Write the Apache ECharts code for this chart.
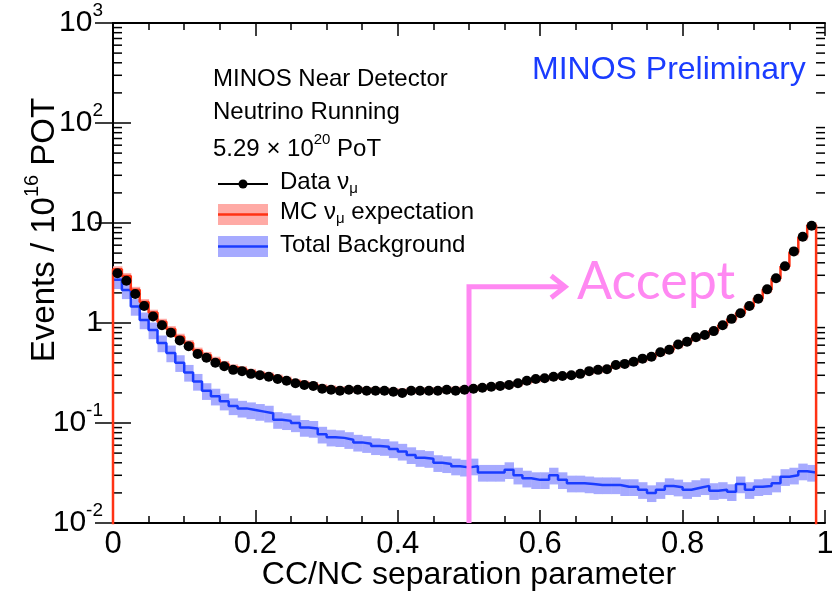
<!DOCTYPE html>
<html lang="en">
<head>
<meta charset="UTF-8">
<title>CC/NC separation parameter</title>
<script src="https://cdn.jsdelivr.net/npm/echarts@6/dist/echarts.min.js"></script>
<style>
    body { margin: 0; background: #fff; }
    #main { width: 832px; height: 592px; }
</style>
</head>
<body>
<div id="main"></div>
<script type="text/javascript">
    // 80 bins of 0.0125 on [0, 1]
    var binWidth = 0.0125;

    // data points (Events / 1e16 POT), bins 0..78
    var dataVals = [3.14, 2.65, 1.95, 1.48, 1.16, 0.95, 0.80, 0.67, 0.585, 0.49,
        0.45, 0.40, 0.37, 0.34, 0.33, 0.31, 0.30, 0.29, 0.275, 0.265,
        0.25, 0.24, 0.235, 0.22, 0.215, 0.21, 0.215, 0.215, 0.21, 0.21,
        0.21, 0.205, 0.20, 0.21, 0.21, 0.21, 0.21, 0.215, 0.21, 0.215,
        0.22, 0.225, 0.23, 0.235, 0.24, 0.25, 0.265, 0.275, 0.28, 0.29,
        0.295, 0.30, 0.31, 0.33, 0.34, 0.345, 0.38, 0.39, 0.41, 0.44,
        0.46, 0.51, 0.54, 0.61, 0.65, 0.72, 0.76, 0.83, 0.95, 1.10,
        1.25, 1.48, 1.75, 2.17, 2.80, 3.7, 5.2, 7.3, 9.4];

    // MC nu_mu expectation, bins 0..79 (last bin empty)
    var mcVals = [3.45, 2.95, 2.15, 1.62, 1.27, 1.03, 0.87, 0.73, 0.63, 0.53,
        0.48, 0.43, 0.39, 0.36, 0.345, 0.325, 0.31, 0.30, 0.285, 0.272,
        0.258, 0.248, 0.24, 0.228, 0.222, 0.217, 0.216, 0.215, 0.213, 0.212,
        0.211, 0.208, 0.207, 0.21, 0.211, 0.212, 0.213, 0.215, 0.216, 0.218,
        0.222, 0.226, 0.231, 0.236, 0.242, 0.25, 0.262, 0.272, 0.281, 0.29,
        0.296, 0.303, 0.313, 0.328, 0.338, 0.35, 0.375, 0.39, 0.41, 0.435,
        0.46, 0.505, 0.54, 0.60, 0.65, 0.71, 0.76, 0.835, 0.95, 1.09,
        1.26, 1.47, 1.76, 2.16, 2.78, 3.68, 5.1, 7.2, 9.5, 0];

    // total background, bins 0..78
    var bgVals = [2.7, 2.14, 1.46, 1.07, 0.85, 0.63, 0.50, 0.40, 0.32, 0.26,
        0.21, 0.185, 0.165, 0.148, 0.14, 0.135, 0.13, 0.125, 0.108, 0.105,
        0.10, 0.09, 0.088, 0.077, 0.072, 0.071, 0.068, 0.064, 0.062, 0.059,
        0.058, 0.055, 0.052, 0.048, 0.045, 0.044, 0.040, 0.039, 0.037, 0.036,
        0.037, 0.032, 0.032, 0.032, 0.034, 0.030, 0.028, 0.027, 0.027, 0.030,
        0.027, 0.025, 0.025, 0.0245, 0.024, 0.024, 0.024, 0.023, 0.023, 0.0215,
        0.020, 0.0215, 0.0235, 0.0228, 0.0215, 0.0225, 0.0235, 0.021, 0.0215, 0.0205,
        0.0245, 0.0215, 0.023, 0.0235, 0.025, 0.029, 0.030, 0.033, 0.032];

    // relative size of the systematic bands
    var mcErr = 0.07;
    var bgErr = 0.19;

    // cut arrow
    var cutValue = 0.5;
    var arrowEnd = 0.635;
    var arrowLevel = 2.3;

    var yMin = 0.01, yMax = 1000;
    var floorVal = 1e-4;

    var logMinor = [];
    for (var k = -2; k < 3; k++) {
        for (var m = 2; m < 10; m++) logMinor.push([0, m * Math.pow(10, k)]);
    }

    function stepPoints(vals, fromFloor) {
        var pts = [];
        if (fromFloor) pts.push([0, floorVal]);
        vals.forEach(function (v, i) {
            var y = v > 0 ? v : floorVal;
            pts.push([i * binWidth, y]);
            pts.push([(i + 1) * binWidth, y]);
        });
        return pts;
    }

    function bandData(vals, err) {
        var out = [];
        vals.forEach(function (v, i) {
            if (v > 0) out.push([i * binWidth, (i + 1) * binWidth, v * (1 - err), v * (1 + err)]);
        });
        return out;
    }

    function bandRenderer(color) {
        return function (params, api) {
            var a = api.coord([api.value(0), api.value(3)]);
            var b = api.coord([api.value(1), api.value(2)]);
            return {
                type: 'rect',
                shape: {x: a[0], y: a[1], width: b[0] - a[0] + 0.5, height: b[1] - a[1]},
                style: {fill: color}
            };
        };
    }

    var pointData = dataVals.map(function (v, i) { return [(i + 0.5) * binWidth, v]; });

    var red = '#ff3214', redBand = '#ffaaa5';
    var blue = '#1a3cff', blueBand = '#a6aaff';
    var pink = '#ff88f2';

    var font = 'Liberation Sans, Arial, sans-serif';

    var expRich = {
        b: {fontSize: 30, fontFamily: font, color: '#000', lineHeight: 32},
        s: {fontSize: 19, fontFamily: font, color: '#000', lineHeight: 19, padding: [0, 0, 24, 0]}
    };

    var myChart = echarts.init(document.getElementById('main'));

    var xAxisBase = {
        type: 'value', min: 0, max: 1, interval: 0.2,
        axisLine: {lineStyle: {color: '#000', width: 2}},
        axisTick: {inside: true, length: 13, lineStyle: {color: '#000', width: 1.5}},
        minorTick: {show: true, splitNumber: 4, length: 7, lineStyle: {color: '#000', width: 1.5}},
        splitLine: {show: false}
    };
    var yAxisBase = {
        type: 'log', logBase: 10, min: yMin, max: yMax,
        axisLine: {lineStyle: {color: '#000', width: 2}},
        axisTick: {inside: true, length: 18, lineStyle: {color: '#000', width: 1.5}},
        splitLine: {show: false}
    };

    var option = {
        backgroundColor: '#fff',
        animation: false,
        grid: {left: 113, right: 7, top: 23, bottom: 69, containLabel: false, outerBoundsMode: 'none'},
        xAxis: [
            echarts.util.merge({
                position: 'bottom',
                name: 'CC/NC separation parameter',
                nameLocation: 'middle',
                nameGap: 36,
                nameMoveOverlap: false,
                nameTextStyle: {fontSize: 32, fontFamily: font, color: '#000'},
                axisLabel: {fontSize: 31, fontFamily: font, color: '#000', margin: 6}
            }, xAxisBase, true),
            echarts.util.merge({position: 'top', axisLabel: {show: false}}, xAxisBase, true)
        ],
        yAxis: [
            echarts.util.merge({
                position: 'left',
                axisLabel: {
                    margin: 10,
                    formatter: function (v) {
                        var e = Math.round(Math.log(v) / Math.LN10);
                        if (e === 0) return '{b|1}';
                        if (e === 1) return '{b|10}';
                        return '{b|10}{s|' + e + '}';
                    },
                    rich: expRich
                }
            }, yAxisBase, true),
            echarts.util.merge({position: 'right', axisLabel: {show: false}}, yAxisBase, true)
        ],
        series: [
            {
                // log minor ticks on left and right frame
                type: 'custom', silent: true, z: 1,
                data: logMinor,
                renderItem: function (params, api) {
                    var l = api.coord([0, api.value(1)]);
                    var r = api.coord([1, api.value(1)]);
                    return {
                        type: 'group', children: [
                            {type: 'line', shape: {x1: l[0], y1: l[1], x2: l[0] + 9, y2: l[1]}, style: {stroke: '#000', lineWidth: 1.5}},
                            {type: 'line', shape: {x1: r[0] - 9, y1: r[1], x2: r[0], y2: r[1]}, style: {stroke: '#000', lineWidth: 1.5}}
                        ]
                    };
                }
            },
            {
                name: 'bgBand', type: 'custom', z: 2, clip: true,
                data: bandData(bgVals, bgErr),
                encode: {x: [0, 1], y: [2, 3]},
                renderItem: bandRenderer(blueBand)
            },
            {
                name: 'mcBand', type: 'custom', z: 3, clip: true,
                data: bandData(mcVals, mcErr),
                encode: {x: [0, 1], y: [2, 3]},
                renderItem: bandRenderer(redBand)
            },
            {
                name: 'Total Background', type: 'line', z: 4, clip: true,
                data: stepPoints(bgVals, false),
                showSymbol: false,
                lineStyle: {color: blue, width: 2.5}
            },
            {
                name: 'MC', type: 'line', z: 5, clip: true,
                data: stepPoints(mcVals, true),
                showSymbol: false,
                lineStyle: {color: red, width: 2.5}
            },
            {
                // cut arrow
                type: 'custom', z: 6, clip: false, silent: true,
                data: [[cutValue, arrowLevel, arrowEnd]],
                renderItem: function (params, api) {
                    var bottom = api.coord([api.value(0), yMin]);
                    var corner = api.coord([api.value(0), api.value(1)]);
                    var tip = api.coord([api.value(2), api.value(1)]);
                    return {
                        type: 'group', children: [
                            {type: 'polyline', shape: {points: [bottom, corner, tip]},
                                style: {stroke: pink, lineWidth: 5, fill: null, lineJoin: 'miter'}},
                            {type: 'polyline', shape: {points: [[tip[0] - 14, tip[1] - 11], [tip[0], tip[1]], [tip[0] - 14, tip[1] + 11]]},
                                style: {stroke: pink, lineWidth: 5, fill: null, lineJoin: 'miter'}}
                        ]
                    };
                }
            },
            {
                name: 'Data', type: 'scatter', z: 7,
                data: pointData,
                symbol: 'circle', symbolSize: 10,
                itemStyle: {color: '#000', opacity: 1}
            }
        ],
        graphic: [
            {
                type: 'text', x: 45, y: 230, rotation: Math.PI / 2,
                style: {
                    text: '{b|Events / 10}{s|16}{b| POT}',
                    align: 'center', verticalAlign: 'middle',
                    rich: {
                        b: {fontSize: 33, fontFamily: font, color: '#000', lineHeight: 34},
                        s: {fontSize: 20, fontFamily: font, color: '#000', lineHeight: 20, padding: [0, 0, 26, 0]}
                    }
                }
            },
            {type: 'text', x: 213, y: 79, style: {text: 'MINOS Near Detector', font: '24px ' + font, fill: '#000', verticalAlign: 'middle'}},
            {type: 'text', x: 213, y: 112, style: {text: 'Neutrino Running', font: '24px ' + font, fill: '#000', verticalAlign: 'middle'}},
            {
                type: 'text', x: 213, y: 149,
                style: {
                    text: '{b|5.29 × 10}{s|20}{b| PoT}', verticalAlign: 'middle',
                    rich: {
                        b: {fontSize: 24, fontFamily: font, color: '#000', lineHeight: 26},
                        s: {fontSize: 15, fontFamily: font, color: '#000', lineHeight: 15, padding: [0, 0, 18, 0]}
                    }
                }
            },
            {type: 'line', shape: {x1: 218, y1: 184, x2: 268, y2: 184}, style: {stroke: '#000', lineWidth: 2}},
            {type: 'circle', shape: {cx: 243, cy: 184, r: 4.5}, style: {fill: '#000'}},
            {
                type: 'text', x: 280, y: 182,
                style: {
                    text: '{b|Data ν}{u|μ}', verticalAlign: 'middle',
                    rich: {
                        b: {fontSize: 24, fontFamily: font, color: '#000', lineHeight: 26},
                        u: {fontSize: 15, fontFamily: font, color: '#000', lineHeight: 15, padding: [14, 0, 0, 0]}
                    }
                }
            },
            {type: 'rect', shape: {x: 218, y: 204, width: 50, height: 21}, style: {fill: redBand}},
            {type: 'line', shape: {x1: 218, y1: 214.5, x2: 268, y2: 214.5}, style: {stroke: red, lineWidth: 2.5}},
            {
                type: 'text', x: 280, y: 212,
                style: {
                    text: '{b|MC ν}{u|μ}{b| expectation}', verticalAlign: 'middle',
                    rich: {
                        b: {fontSize: 24, fontFamily: font, color: '#000', lineHeight: 26},
                        u: {fontSize: 15, fontFamily: font, color: '#000', lineHeight: 15, padding: [14, 0, 0, 0]}
                    }
                }
            },
            {type: 'rect', shape: {x: 218, y: 236, width: 50, height: 21}, style: {fill: blueBand}},
            {type: 'line', shape: {x1: 218, y1: 246.5, x2: 268, y2: 246.5}, style: {stroke: blue, lineWidth: 2.5}},
            {type: 'text', x: 280, y: 245, style: {text: 'Total Background', font: '24px ' + font, fill: '#000', verticalAlign: 'middle'}},
            {type: 'text', x: 532, y: 70, style: {text: 'MINOS Preliminary', font: '32px ' + font, fill: blue, verticalAlign: 'middle'}},
            {type: 'text', x: 577, y: 282, style: {text: 'Accept', font: '52px Lato, sans-serif', fill: pink, verticalAlign: 'middle'}}
        ]
    };

    myChart.setOption(option);
</script>
</body>
</html>
